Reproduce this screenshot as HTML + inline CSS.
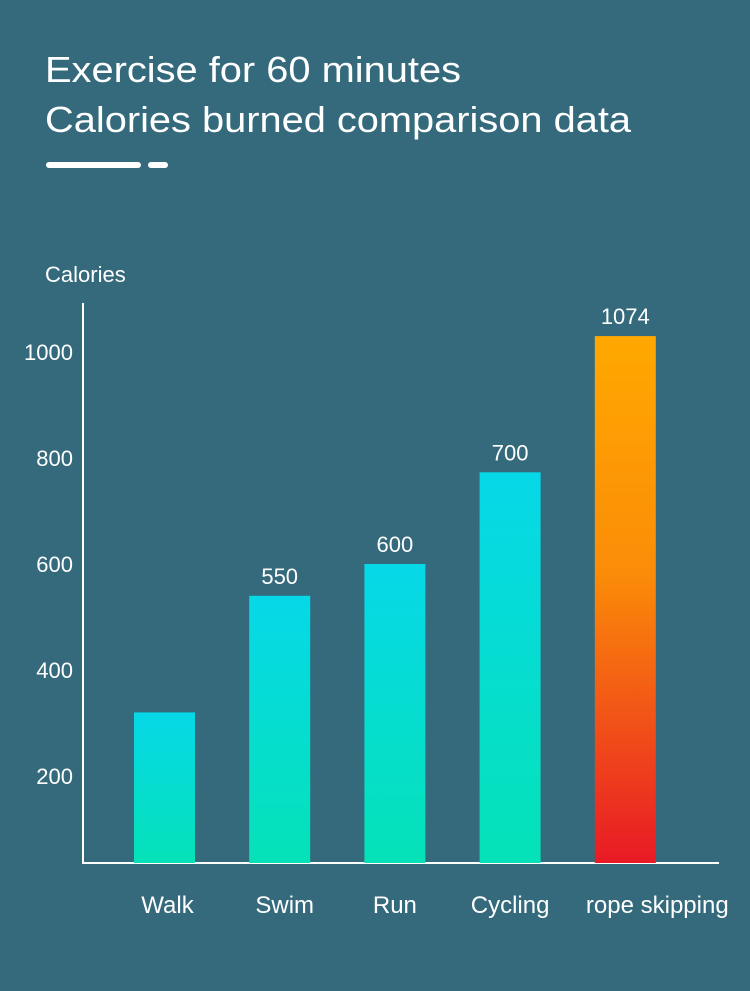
<!DOCTYPE html>
<html><head><meta charset="utf-8"><style>
html,body{margin:0;padding:0;background:#346a7c;}
svg{display:block;font-family:"Liberation Sans",Arial,sans-serif;}
</style></head><body>
<svg id="chart" width="750" height="991" viewBox="0 0 750 991">
<defs>
<linearGradient id="gCyan" x1="0" y1="0" x2="0" y2="1"><stop offset="0" stop-color="#07d8e8"/><stop offset="1" stop-color="#05e2b8"/></linearGradient>
<linearGradient id="gHot" x1="0" y1="0" x2="0" y2="1"><stop offset="0" stop-color="#ffa800"/><stop offset="0.45" stop-color="#fb8c08"/><stop offset="1" stop-color="#e81a26"/></linearGradient>
</defs>
<rect width="750" height="991" fill="#346a7c"/>
<text x="45" y="82" fill="#fff" font-size="36" textLength="416" lengthAdjust="spacingAndGlyphs">Exercise for 60 minutes</text>
<text x="45" y="132" fill="#fff" font-size="36" textLength="586" lengthAdjust="spacingAndGlyphs">Calories burned comparison data</text>
<line x1="49" y1="165" x2="138" y2="165" stroke="#fff" stroke-width="6" stroke-linecap="round"/>
<line x1="151" y1="165" x2="165" y2="165" stroke="#fff" stroke-width="6" stroke-linecap="round"/>
<text x="45" y="282" fill="#fff" font-size="22">Calories</text>
<line x1="83" y1="303" x2="83" y2="863" stroke="#fff" stroke-width="2"/>
<line x1="82" y1="863" x2="719" y2="863" stroke="#fff" stroke-width="2"/>
<g id="ticks"></g><g id="bars"></g>
</svg>
<script>
const categories = ["Walk","Swim","Run","Cycling","rope skipping"];
const values = [320, 540, 600, 773, 1030];
const valueLabels = ["", "550", "600", "700", "1074"];
const yTicks = [200, 400, 600, 800, 1000];
const NS = "http://www.w3.org/2000/svg";
function y(v){ return 882 - v * 0.53; }
function xc(i){ return 164.5 + i * 115.2; }
const tg = document.getElementById('ticks'), bg = document.getElementById('bars');
function mk(tag, attrs, parent){ const e=document.createElementNS(NS,tag); for(const k in attrs) e.setAttribute(k,attrs[k]); parent.appendChild(e); return e; }
yTicks.forEach(t=>{
  const e = mk('text',{x:73,y:y(t)+8,fill:'#fff','font-size':22,'text-anchor':'end'},tg);
  
  
  e.textContent = t;
});
const labelOffsets = [3, 5, 0, 0, 32];
categories.forEach((c,i)=>{
  const w = 61, top = y(values[i]);
  const r = mk('rect',{x:xc(i)-w/2,y:top,width:w,height:863-top,fill: i===4?'url(#gHot)':'url(#gCyan)'},bg);
  
  
  if(valueLabels[i]){
    const l = mk('text',{x:xc(i),y:top-12,fill:'#fff','font-size':22,'text-anchor':'middle'},bg);
    
    
    l.textContent = valueLabels[i];
  }
  const cl = mk('text',{x:xc(i)+labelOffsets[i],y:913,fill:'#fff','font-size':24,'text-anchor':'middle'},bg);
  
  
  cl.textContent = c;
});
</script>
</body></html>
